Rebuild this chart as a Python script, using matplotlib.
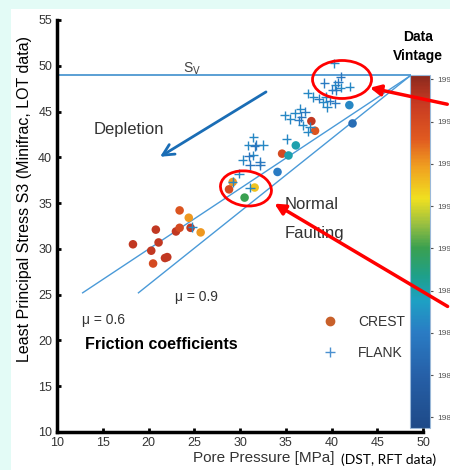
import matplotlib
matplotlib.use("Agg")
import matplotlib.pyplot as plt
from matplotlib.colors import LinearSegmentedColormap, Normalize
from matplotlib.patches import Ellipse, Rectangle
from matplotlib.lines import Line2D

plt.rcParams['font.family'] = ['Liberation Sans', 'DejaVu Sans']

# CREST wells: pore pressure, least principal stress, data vintage (year)
crest_pp = [18.3, 20.8, 21.1, 20.3, 20.5, 21.8, 22.05, 23.0, 23.4, 23.4, 24.4, 24.6, 25.7,
            29.2, 28.8, 31.6, 30.5, 34.1, 34.6, 35.3, 36.1, 37.8, 38.2, 41.95, 42.3]
crest_s3 = [30.5, 32.1, 30.7, 29.8, 28.4, 29.0, 29.1, 31.9, 32.3, 34.2, 33.4, 32.3, 31.8,
            37.3, 36.5, 36.7, 35.6, 38.4, 40.4, 40.2, 41.3, 43.95, 42.9, 45.7, 43.7]
crest_year = [1997, 1997, 1997, 1997, 1996, 1997, 1997, 1997, 1996, 1995.5, 1994, 1997, 1994,
              1994, 1996, 1993, 1990, 1986, 1996, 1988, 1988, 1997, 1995.5, 1986.5, 1985]

# FLANK wells
flank_pp = [40.3, 39.2, 40.4, 40.7, 41.0, 41.0, 40.1, 42.0, 40.5, 37.4, 38.0, 38.6, 39.4,
            39.8, 39.1, 39.5, 40.4, 36.6, 37.1, 36.0, 36.7, 34.9, 35.5, 36.4, 36.85, 37.65,
            35.1, 37.4, 31.45, 30.9, 31.8, 32.5, 31.45, 30.3, 32.2, 31.6, 31.0, 31.1, 32.2,
            29.9, 29.2, 31.1, 24.8]
flank_s3 = [50.25, 48.1, 47.9, 48.2, 48.8, 47.6, 47.4, 47.7, 47.3, 47.0, 46.6, 46.4, 46.6,
            46.2, 46.0, 45.5, 45.9, 45.3, 45.0, 44.8, 44.4, 44.6, 44.2, 44.05, 43.5, 43.3,
            42.0, 42.8, 42.2, 41.3, 41.35, 41.35, 40.2, 39.7, 39.5, 41.2, 40.1, 39.15, 39.15,
            38.2, 37.3, 36.7, 32.4]
flank_year = [1986.5, 1986, 1986.5, 1986, 1985.5, 1986.5, 1986, 1986.5, 1986, 1986.5, 1986.5,
              1986, 1986.5, 1986, 1986.5, 1986.5, 1986, 1986.5, 1986, 1986.5, 1985.5, 1986.5,
              1986.5, 1986, 1986.5, 1986.5, 1986.5, 1986.5, 1986.5, 1986.5, 1986, 1986.5,
              1986.5, 1986.5, 1986, 1985.5, 1985.5, 1985.5, 1985.5, 1986.5, 1986.5, 1986.5,
              1986.5]

# reference lines
sv_pp = [10, 48.6]
sv_s3 = [49, 49]
mu06_pp = [12.8, 48.6]
mu06_s3 = [25.2, 48.9]
mu09_pp = [18.9, 48.6]
mu09_s3 = [25.2, 48.9]

year_ticks = [1982, 1984, 1986, 1988, 1990, 1992, 1994, 1996, 1998]

vintage = LinearSegmentedColormap.from_list('vintage', [
    (0.00, '#1e4a88'), (0.15, '#2660a8'), (0.27, '#2a7cc4'), (0.36, '#1ea0c4'),
    (0.43, '#1ea08a'), (0.51, '#3aa050'), (0.58, '#9cc040'), (0.65, '#f0e020'),
    (0.74, '#f0a020'), (0.82, '#e05a20'), (0.92, '#c83a22'), (1.00, '#8b2a1e')])
norm = Normalize(vmin=1981.5, vmax=1998.2)

fig = plt.figure(figsize=(4.5, 4.7), dpi=100)
fig.patch.set_facecolor('#e3fbf6')
fig.patches.append(Rectangle((0.0244, 0), 1, 0.981, transform=fig.transFigure,
                             facecolor='white', edgecolor='none', zorder=-10))

ax = fig.add_axes([0.1267, 0.0809, 0.8133, 0.8766])
cax = fig.add_axes([0.911, 0.0894, 0.0444, 0.751])
ax.set_zorder(cax.get_zorder() + 1)
ax.patch.set_visible(False)

line_c = '#4a9ad8'
ax.plot(sv_pp, sv_s3, color='#5a9fd4', lw=1.4)
ax.plot(mu06_pp, mu06_s3, color=line_c, lw=1.0)
ax.plot(mu09_pp, mu09_s3, color=line_c, lw=1.0)

sc = ax.scatter(crest_pp, crest_s3, c=crest_year, cmap=vintage, norm=norm, s=38,
                edgecolors='none', zorder=3)
ax.scatter(flank_pp, flank_s3, c=flank_year, cmap=vintage, norm=norm, marker='+', s=45,
           linewidths=1.0, zorder=4)

cb = fig.colorbar(sc, cax=cax, ticks=year_ticks)
cb.outline.set_edgecolor('#9ab8d8')
cb.ax.tick_params(labelsize=6, colors='#555555', length=2)

# annotations
ax.annotate('', xy=(21.0, 39.9), xytext=(33.1, 47.3),
            arrowprops=dict(arrowstyle='->', color='#1a6db5', lw=2, mutation_scale=20))
ax.text(23.8, 49.3, r'S$_\mathrm{V}$', fontsize=10, color='#444444')
ax.text(14.0, 43.0, 'Depletion', fontsize=12, color='#333333', va='center')
ax.text(34.9, 34.8, 'Normal', fontsize=12, color='#333333', va='center')
ax.text(34.9, 31.7, 'Faulting', fontsize=12, color='#333333', va='center')
ax.text(22.9, 24.7, 'μ = 0.9', fontsize=10, color='#333333', va='center')
ax.text(12.7, 22.2, 'μ = 0.6', fontsize=10, color='#333333', va='center')
ax.text(13.1, 19.5, 'Friction coefficients', fontsize=11.5, fontweight='bold', va='center')

ax.add_patch(Ellipse((41.15, 48.5), 6.45, 4.15, fill=False, edgecolor='red', lw=2, zorder=5))
ax.add_patch(Ellipse((30.65, 36.6), 5.6, 3.8, angle=-8, fill=False, edgecolor='red', lw=2,
                     zorder=5))
ax.annotate('', xy=(43.9, 47.66), xycoords='data', xytext=(1.0, 0.777),
            textcoords='figure fraction', annotation_clip=False,
            arrowprops=dict(arrowstyle='-|>', color='red', lw=2.5, mutation_scale=16))
ax.annotate('', xy=(33.5, 35.1), xycoords='data', xytext=(1.0, 0.345),
            textcoords='figure fraction', annotation_clip=False,
            arrowprops=dict(arrowstyle='-|>', color='red', lw=2.5, mutation_scale=16))

handles = [Line2D([], [], marker='o', ls='none', color='#c8602a', markersize=6),
           Line2D([], [], marker='+', ls='none', color='#4a90d0', markersize=7)]
ax.legend(handles, ['CREST', 'FLANK'], loc='center left', bbox_to_anchor=(0.675, 0.23),
          frameon=False, fontsize=10, labelspacing=1.2, handletextpad=1.0,
          labelcolor='#333333')

ax.set_xlim(10, 50)
ax.set_ylim(10, 55)
ax.set_xticks(range(10, 51, 5))
ax.set_yticks(range(10, 56, 5))
for side in ['top', 'right']:
    ax.spines[side].set_visible(False)
for side in ['left', 'bottom']:
    ax.spines[side].set_linewidth(2.5)
ax.tick_params(direction='in', length=3, width=2, labelsize=9, labelcolor='#333333')

ax.set_ylabel('Least Principal Stress S3 (Minifrac, LOT data)', fontsize=11.5)
ax.yaxis.set_label_coords(-0.068, 0.566)
fig.text(0.429, 0.026, 'Pore Pressure [MPa]', fontsize=11, color='#333333',
         ha='left', va='center')
fig.text(0.758, 0.022, '(DST, RFT data)', fontsize=10, family='Lato', va='center')
fig.text(0.929, 0.921, 'Data', fontsize=10, fontweight='bold', ha='center', va='center')
fig.text(0.929, 0.881, 'Vintage', fontsize=10, fontweight='bold', ha='center', va='center')

fig.savefig('out.png', dpi=100)
